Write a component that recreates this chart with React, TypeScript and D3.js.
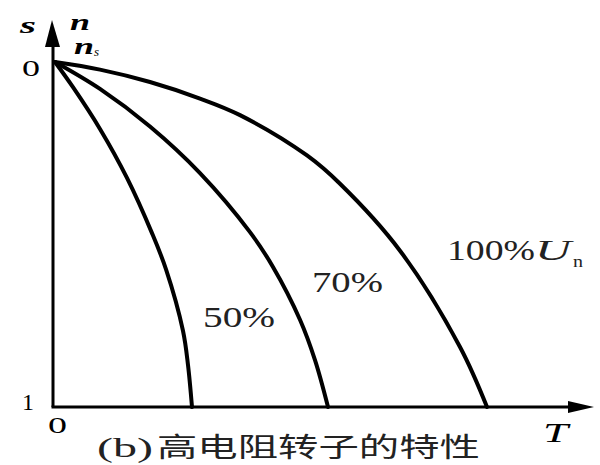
import React from 'react';
import * as d3 from 'd3';

// Torque T (arbitrary units, 0..100 along the T axis) and slip s (0..1)
const curve100T = [0.37, 8.7, 17.96, 27.22, 34.63, 47.04, 53.15, 64.26, 75.37, 80.37];
const curve100S = [0, 0.022, 0.058, 0.106, 0.154, 0.271, 0.353, 0.547, 0.826, 1];
const curve70T = [0.37, 8.7, 17.96, 27.22, 36.48, 40.74, 45.74, 48.52, 50.93];
const curve70S = [0, 0.078, 0.187, 0.322, 0.493, 0.594, 0.747, 0.864, 1];
const curve50T = [0.37, 3.7, 8.7, 13.7, 18.33, 20.93, 24.07, 25.0, 25.74];
const curve50S = [0, 0.073, 0.194, 0.336, 0.496, 0.601, 0.779, 0.878, 1];

const seriesLabels = ['50%', '70%', '100%'];
const sTickLabels = ['0', '1'];
const captionPrefix = '(b)';
const captionText = '高电阻转子的特性';

const W = 600;
const H = 465;

export default function App() {
  const x = d3.scaleLinear().domain([0, 100]).range([53, 593]);
  const y = d3.scaleLinear().domain([0, 1]).range([62, 407]);

  const line = d3
    .line<[number, number]>()
    .x((d) => x(d[0]))
    .y((d) => y(d[1]))
    .curve(d3.curveCatmullRom.alpha(0.5));

  const zip = (a: number[], b: number[]) => a.map((v, i) => [v, b[i]] as [number, number]);
  const curves = [zip(curve50T, curve50S), zip(curve70T, curve70S), zip(curve100T, curve100S)];

  const serif = '"Liberation Serif", "DejaVu Serif", serif';
  const x0 = x(0);
  const y1 = y(1);

  return (
    <svg
      width={W}
      height={H}
      viewBox={`0 0 ${W} ${H}`}
      style={{ position: 'absolute', left: 0, top: 0, background: '#fff' }}
    >
      <rect width={W} height={H} fill="#fff" />
      {/* axes */}
      <line x1={x0} y1={y1} x2={x0} y2={44} stroke="#000" strokeWidth={3} />
      <line x1={x0 - 1.5} y1={y1} x2={572} y2={y1} stroke="#000" strokeWidth={3} />
      <polygon points={`${x0 - 1},20 ${x0 - 8},47 ${x0 + 7},47`} fill="#000" />
      <polygon points={`594,${y1} 568,${y1 - 6} 568,${y1 + 6}`} fill="#000" />

      {/* curves */}
      {curves.map((c, i) => (
        <path key={i} d={line(c) || ''} fill="none" stroke="#000" strokeWidth={4} strokeLinecap="round" />
      ))}

      {/* axis labels */}
      <text x={20} y={33} fontFamily={serif} fontStyle="italic" fontWeight="bold" fontSize={24} textLength={16} lengthAdjust="spacingAndGlyphs">s</text>
      <text x={70} y={30} fontFamily={serif} fontStyle="italic" fontWeight="bold" fontSize={24} textLength={20} lengthAdjust="spacingAndGlyphs">n</text>
      <text x={74} y={54} fontFamily={serif} fontStyle="italic" fontWeight="bold" fontSize={24} textLength={20} lengthAdjust="spacingAndGlyphs">n</text>
      <text x={94} y={56} fontFamily={serif} fontStyle="italic" fontSize={13}>s</text>
      <text x={22} y={76} fontFamily={serif} fontSize={23} textLength={18} lengthAdjust="spacingAndGlyphs">{sTickLabels[0]}</text>
      <text x={22} y={410} fontFamily={serif} fontSize={23} textLength={12} lengthAdjust="spacingAndGlyphs">{sTickLabels[1]}</text>
      <text x={48} y={433} fontFamily={serif} fontSize={23} textLength={19} lengthAdjust="spacingAndGlyphs">0</text>
      <text x={543} y={442} fontFamily={serif} fontStyle="italic" fontSize={27} textLength={25} lengthAdjust="spacingAndGlyphs">T</text>

      {/* series labels */}
      <text x={203} y={327} fontFamily={serif} fontSize={29} fill="#222" textLength={72} lengthAdjust="spacingAndGlyphs">{seriesLabels[0]}</text>
      <text x={312} y={292} fontFamily={serif} fontSize={29} fill="#222" textLength={71} lengthAdjust="spacingAndGlyphs">{seriesLabels[1]}</text>
      <text x={447} y={260} fontFamily={serif} fontSize={29} fill="#222" textLength={88} lengthAdjust="spacingAndGlyphs">{seriesLabels[2]}</text>
      <text x={535} y={260} fontFamily={serif} fontStyle="italic" fontSize={29} fill="#222" textLength={36} lengthAdjust="spacingAndGlyphs">U</text>
      <text x={573} y={267} fontFamily={serif} fontSize={16} fill="#222" textLength={10} lengthAdjust="spacingAndGlyphs">n</text>

      {/* caption */}
      <text x={97} y={457} fontFamily={serif} fontSize={27} fill="#222" textLength={56} lengthAdjust="spacingAndGlyphs">
        {captionPrefix}
      </text>
      <text
        x={157}
        y={457}
        fontFamily={'"Noto Sans CJK SC", "Noto Sans", sans-serif'}
        fontSize={27}
        fill="#222"
        textLength={323}
        lengthAdjust="spacingAndGlyphs"
      >
        {captionText}
      </text>
    </svg>
  );
}
